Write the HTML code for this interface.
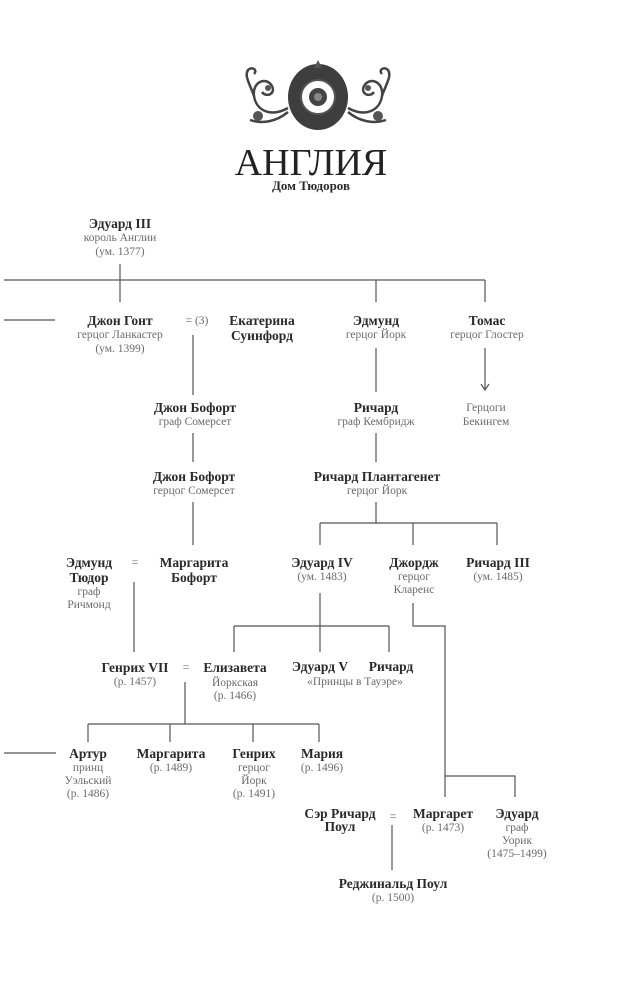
<!DOCTYPE html>
<html><head><meta charset="utf-8"><style>
html,body{margin:0;padding:0;background:#fff;}
svg{display:block;}
.n{font-family:"Liberation Serif",serif;font-weight:bold;font-size:13.5px;fill:#2a2a2a;text-anchor:middle;}
.s{font-family:"Liberation Serif",serif;font-size:11.5px;fill:#6a6a6a;text-anchor:middle;}
.l{stroke:#555;stroke-width:1.2;fill:none;}
</style></head><body>
<svg width="631" height="1000" viewBox="0 0 631 1000">
<!-- emblem -->
<g>
<ellipse cx="318" cy="97" rx="30" ry="33" fill="#3e3e3e"/>
<polygon points="318,60 322,68 314,68" fill="#555"/>
<circle cx="318" cy="97" r="17" fill="#fff" stroke="#555" stroke-width="2"/>
<circle cx="318" cy="97" r="9" fill="#444"/>
<circle cx="318" cy="97" r="4" fill="#888"/>
<g fill="none" stroke="#444" stroke-width="2.5">
<path d="M288,108 C270,118 256,110 254,96 C252,82 266,76 272,86 C276,94 266,98 262,92"/>
<path d="M254,96 C250,84 244,76 248,70 C252,66 258,70 254,74"/>
<path d="M348,108 C366,118 380,110 382,96 C384,82 370,76 364,86 C360,94 370,98 374,92"/>
<path d="M382,96 C386,84 392,76 388,70 C384,66 378,70 382,74"/>
<path d="M288,112 C276,122 262,124 250,120"/>
<path d="M348,112 C360,122 374,124 386,120"/>
</g>
<g fill="#555">
<circle cx="258" cy="116" r="5"/><circle cx="378" cy="116" r="5"/>
<circle cx="268" cy="88" r="3"/><circle cx="368" cy="88" r="3"/>
</g>
</g>
<text x="311" y="175" font-family="Liberation Serif,serif" font-size="38" fill="#222" text-anchor="middle" style="letter-spacing:0px">АНГЛИЯ</text>
<text x="311" y="190" class="n" style="font-size:13px">Дом Тюдоров</text>

<!-- lines -->
<path class="l" d="M120,264 V302 M4,280 H485 M376,280 V302 M485,280 V302
M4,320 H55 M193,335 V395 M376,348 V392 M485,348 V390
M193,433 V462 M376,433 V462
M193,502 V545 M376,502 V523 M320,523 H497 M320,523 V545 M413,523 V545 M497,523 V545
M134,582 V652 M320,593 V652 M234,626 H389 M234,626 V652 M389,626 V652
M413,603 V626 H445 V797 M445,776 H515 V797
M185,682 V724 M88,724 H319 M88,724 V742 M170,724 V742 M253,724 V742 M319,724 V742
M4,753 H56 M392,825 V870"/>
<path class="l" d="M481,384 L485,390 L489,384"/>

<!-- nodes -->
<text class="n" x="120" y="228">Эдуард III</text>
<text class="s" x="120" y="241">король Англии</text>
<text class="s" x="120" y="255">(ум. 1377)</text>

<text class="n" x="120" y="325">Джон Гонт</text>
<text class="s" x="120" y="338">герцог Ланкастер</text>
<text class="s" x="120" y="352">(ум. 1399)</text>
<text class="s" x="197" y="324">= (3)</text>
<text class="n" x="262" y="325">Екатерина</text>
<text class="n" x="262" y="340">Суинфорд</text>
<text class="n" x="376" y="325">Эдмунд</text>
<text class="s" x="376" y="338">герцог Йорк</text>
<text class="n" x="487" y="325">Томас</text>
<text class="s" x="487" y="338">герцог Глостер</text>

<text class="n" x="195" y="412">Джон Бофорт</text>
<text class="s" x="195" y="425">граф Сомерсет</text>
<text class="n" x="376" y="412">Ричард</text>
<text class="s" x="376" y="425">граф Кембридж</text>
<text class="s" x="486" y="411">Герцоги</text>
<text class="s" x="486" y="425">Бекингем</text>

<text class="n" x="194" y="481">Джон Бофорт</text>
<text class="s" x="194" y="494">герцог Сомерсет</text>
<text class="n" x="377" y="481">Ричард Плантагенет</text>
<text class="s" x="377" y="494">герцог Йорк</text>

<text class="n" x="89" y="567">Эдмунд</text>
<text class="n" x="89" y="582">Тюдор</text>
<text class="s" x="89" y="595">граф</text>
<text class="s" x="89" y="608">Ричмонд</text>
<text class="s" x="135" y="566">=</text>
<text class="n" x="194" y="567">Маргарита</text>
<text class="n" x="194" y="582">Бофорт</text>
<text class="n" x="322" y="567">Эдуард IV</text>
<text class="s" x="322" y="580">(ум. 1483)</text>
<text class="n" x="414" y="567">Джордж</text>
<text class="s" x="414" y="580">герцог</text>
<text class="s" x="414" y="593">Кларенс</text>
<text class="n" x="498" y="567">Ричард III</text>
<text class="s" x="498" y="580">(ум. 1485)</text>

<text class="n" x="135" y="672">Генрих VII</text>
<text class="s" x="135" y="685">(р. 1457)</text>
<text class="s" x="186" y="671">=</text>
<text class="n" x="235" y="672">Елизавета</text>
<text class="s" x="235" y="686">Йоркская</text>
<text class="s" x="235" y="699">(р. 1466)</text>
<text class="n" x="320" y="671">Эдуард V</text>
<text class="n" x="391" y="671">Ричард</text>
<text class="s" x="355" y="685">«Принцы в Тауэре»</text>

<text class="n" x="88" y="758">Артур</text>
<text class="s" x="88" y="771">принц</text>
<text class="s" x="88" y="784">Уэльский</text>
<text class="s" x="88" y="797">(р. 1486)</text>
<text class="n" x="171" y="758">Маргарита</text>
<text class="s" x="171" y="771">(р. 1489)</text>
<text class="n" x="254" y="758">Генрих</text>
<text class="s" x="254" y="771">герцог</text>
<text class="s" x="254" y="784">Йорк</text>
<text class="s" x="254" y="797">(р. 1491)</text>
<text class="n" x="322" y="758">Мария</text>
<text class="s" x="322" y="771">(р. 1496)</text>

<text class="n" x="340" y="818">Сэр Ричард</text>
<text class="n" x="340" y="831">Поул</text>
<text class="s" x="393" y="820">=</text>
<text class="n" x="443" y="818">Маргарет</text>
<text class="s" x="443" y="831">(р. 1473)</text>
<text class="n" x="517" y="818">Эдуард</text>
<text class="s" x="517" y="831">граф</text>
<text class="s" x="517" y="844">Уорик</text>
<text class="s" x="517" y="857">(1475–1499)</text>

<text class="n" x="393" y="888">Реджинальд Поул</text>
<text class="s" x="393" y="901">(р. 1500)</text>
</svg>
</body></html>
